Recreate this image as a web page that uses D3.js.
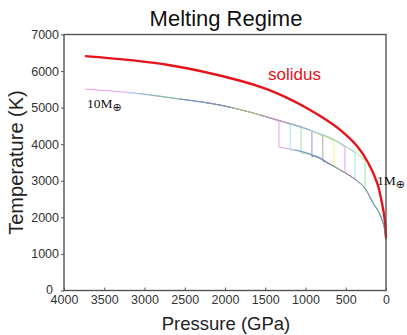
<!DOCTYPE html>
<html>
<head>
<meta charset="utf-8">
<script src="https://cdn.jsdelivr.net/npm/d3@7"></script>
<style>
  body { margin: 0; background: #fff; }
  svg { display: block; font-family: "Liberation Sans", Arial, Helvetica, sans-serif; }
</style>
</head>
<body>
<div class="chart"></div>
<script>
// Solidus (red)
const solidusP = [3740, 2720, 1810, 1490, 1190, 980, 730, 570, 360, 225, 110, 50, 12, 0];
const solidusT = [6408, 6173, 5736, 5512, 5227, 4985, 4648, 4392, 3951, 3506, 2942, 2390, 1870, 1440];

// Core adiabat, shared by every profile above its CMB
const coreP = [3740, 3090, 2560, 2060, 1565, 1330, 945, 635, 510, 385, 260];
const coreT = [5505, 5390, 5235, 5070, 4800, 4650, 4385, 4110, 3950, 3785, 3580];

// Mantle adiabat, below the CMB
const mantleP = [1330, 1130, 880, 700, 510, 385, 260, 160, 60, 12, 0];
const mantleT = [3920, 3840, 3675, 3460, 3220, 3040, 2790, 2390, 1990, 1600, 1380];

// One profile per planet, 10 M⊕ down to 1 M⊕
const profileColors = ['#e58be8', '#8fe3ee', '#8ee08e', '#7b7fe0', '#9a9a9a', '#eeee7a', '#e58be8', '#8fe3ee', '#8ee08e'];
const centerP = [3740, 3200, 2900, 2560, 2250, 1900, 1565, 1200, 800];
const centerT = [5505, 5410, 5335, 5235, 5135, 5000, 4800, 4560, 4255];
const cmbP = [1330, 1190, 1055, 920, 785, 645, 510, 385, 260];
const cmbTopT = [4630, 4550, 4465, 4360, 4220, 4085, 3920, 3755, 3560];
const cmbBottomT = [3920, 3840, 3755, 3650, 3540, 3400, 3240, 3045, 2800];

const xTicks = [4000, 3500, 3000, 2500, 2000, 1500, 1000, 500, 0];
const yTicks = [0, 1000, 2000, 3000, 4000, 5000, 6000, 7000];

const W = 407, H = 335;
const margin = { left: 64, right: 21, top: 34.5, bottom: 44.5 };

const svg = d3.select('.chart').append('svg')
    .attr('width', W).attr('height', H);

const x = d3.scaleLinear().domain([4000, 0]).range([margin.left, W - margin.right]);
const y = d3.scaleLinear().domain([0, 7000]).range([H - margin.bottom, margin.top]);

const line = d3.line()
    .x(d => x(d[0]))
    .y(d => y(d[1]))
    .curve(d3.curveMonotoneX);

// Profiles: core part, drop at the CMB, mantle part
const profiles = cmbP.map((p, i) => {
    const upper = [[centerP[i], centerT[i]]]
        .concat(coreP.map((cp, j) => [cp, coreT[j]]).filter(d => d[0] < centerP[i] && d[0] > p))
        .concat([[p, cmbTopT[i]]]);
    const lower = [[p, cmbBottomT[i]]]
        .concat(mantleP.map((mp, j) => [mp, mantleT[j]]).filter(d => d[0] < p));
    return { color: profileColors[i], upper, lower, p, top: cmbTopT[i], bottom: cmbBottomT[i] };
});

const g = svg.append('g').attr('class', 'profiles');
profiles.forEach(pr => {
    g.append('path').attr('d', line(pr.upper))
        .attr('fill', 'none').attr('stroke', pr.color).attr('stroke-width', 1).attr('stroke-opacity', 0.85);
    g.append('line')
        .attr('x1', x(pr.p)).attr('x2', x(pr.p))
        .attr('y1', y(pr.top)).attr('y2', y(pr.bottom))
        .attr('stroke', pr.color).attr('stroke-width', 1).attr('stroke-opacity', 0.85);
    g.append('path').attr('d', line(pr.lower))
        .attr('fill', 'none').attr('stroke', pr.color).attr('stroke-width', 1).attr('stroke-opacity', 0.85);
});

// Darker bundles where the profiles pile up
svg.append('path')
    .attr('d', line(mantleP.map((p, i) => [p, mantleT[i]]).filter(d => d[0] <= 1130)))
    .attr('fill', 'none').attr('stroke', '#5f6ca0').attr('stroke-width', 1).attr('stroke-opacity', 0.6);
svg.append('path')
    .attr('d', line(coreP.map((p, i) => [p, coreT[i]]).filter(d => d[0] <= 3090 && d[0] >= 945)))
    .attr('fill', 'none').attr('stroke', '#6a7aa0').attr('stroke-width', 1).attr('stroke-opacity', 0.35);

// Solidus drawn smooth
svg.append('path')
    .attr('d', line.curve(d3.curveCatmullRom.alpha(0.5))(solidusP.map((p, i) => [p, solidusT[i]])))
    .attr('fill', 'none').attr('stroke', '#e8121b').attr('stroke-width', 2.4);

// Axes
const xAxis = svg.append('g')
    .attr('transform', `translate(0,${H - margin.bottom})`)
    .call(d3.axisBottom(x).tickValues(xTicks).tickSize(-3).tickPadding(5).tickFormat(d3.format('d')));
const yAxis = svg.append('g')
    .attr('transform', `translate(${margin.left},0)`)
    .call(d3.axisLeft(y).tickValues(yTicks).tickSize(3).tickPadding(2).tickFormat(d3.format('d')));

[xAxis, yAxis].forEach(a => {
    a.select('.domain').remove();
    a.selectAll('line').attr('stroke', '#555');
    a.selectAll('text').attr('fill', '#333').style('font-size', '12.5px')
        .style('font-family', '"Liberation Sans", Arial, sans-serif');
});
yAxis.selectAll('.tick').filter(d => d === 0).select('text').attr('dx', -6).attr('dy', '0.2em');

svg.append('rect')
    .attr('x', margin.left).attr('y', margin.top)
    .attr('width', W - margin.left - margin.right)
    .attr('height', H - margin.top - margin.bottom)
    .attr('fill', 'none').attr('stroke', '#555').attr('stroke-width', 1.4);

// Text
svg.append('text').attr('x', 226).attr('y', 26).attr('text-anchor', 'middle')
    .style('font-size', '22px').attr('fill', '#111').text('Melting Regime');

svg.append('text').attr('x', 226).attr('y', 330).attr('text-anchor', 'middle')
    .style('font-size', '18.5px').attr('fill', '#222').text('Pressure (GPa)');

svg.append('text').attr('transform', 'translate(23,162.5) rotate(-90)').attr('text-anchor', 'middle')
    .style('font-size', '20px').attr('fill', '#222').text('Temperature (K)');

svg.append('text').attr('x', 268).attr('y', 80)
    .style('font-size', '17px').attr('fill', '#e8121b').text('solidus');

const massLabel = (px, py, num) => {
    const t = svg.append('text').attr('x', px).attr('y', py)
        .style('font-family', '"Liberation Serif", "Times New Roman", serif')
        .style('font-size', '13.5px').attr('fill', '#111');
    t.append('tspan').text(num + 'M');
    t.append('tspan').attr('dy', 3).style('font-size', '11px')
        .style('font-family', '"DejaVu Sans", sans-serif').text('⊕');
};
massLabel(87, 108, '10');
massLabel(377, 185, '1');
</script>
</body>
</html>
